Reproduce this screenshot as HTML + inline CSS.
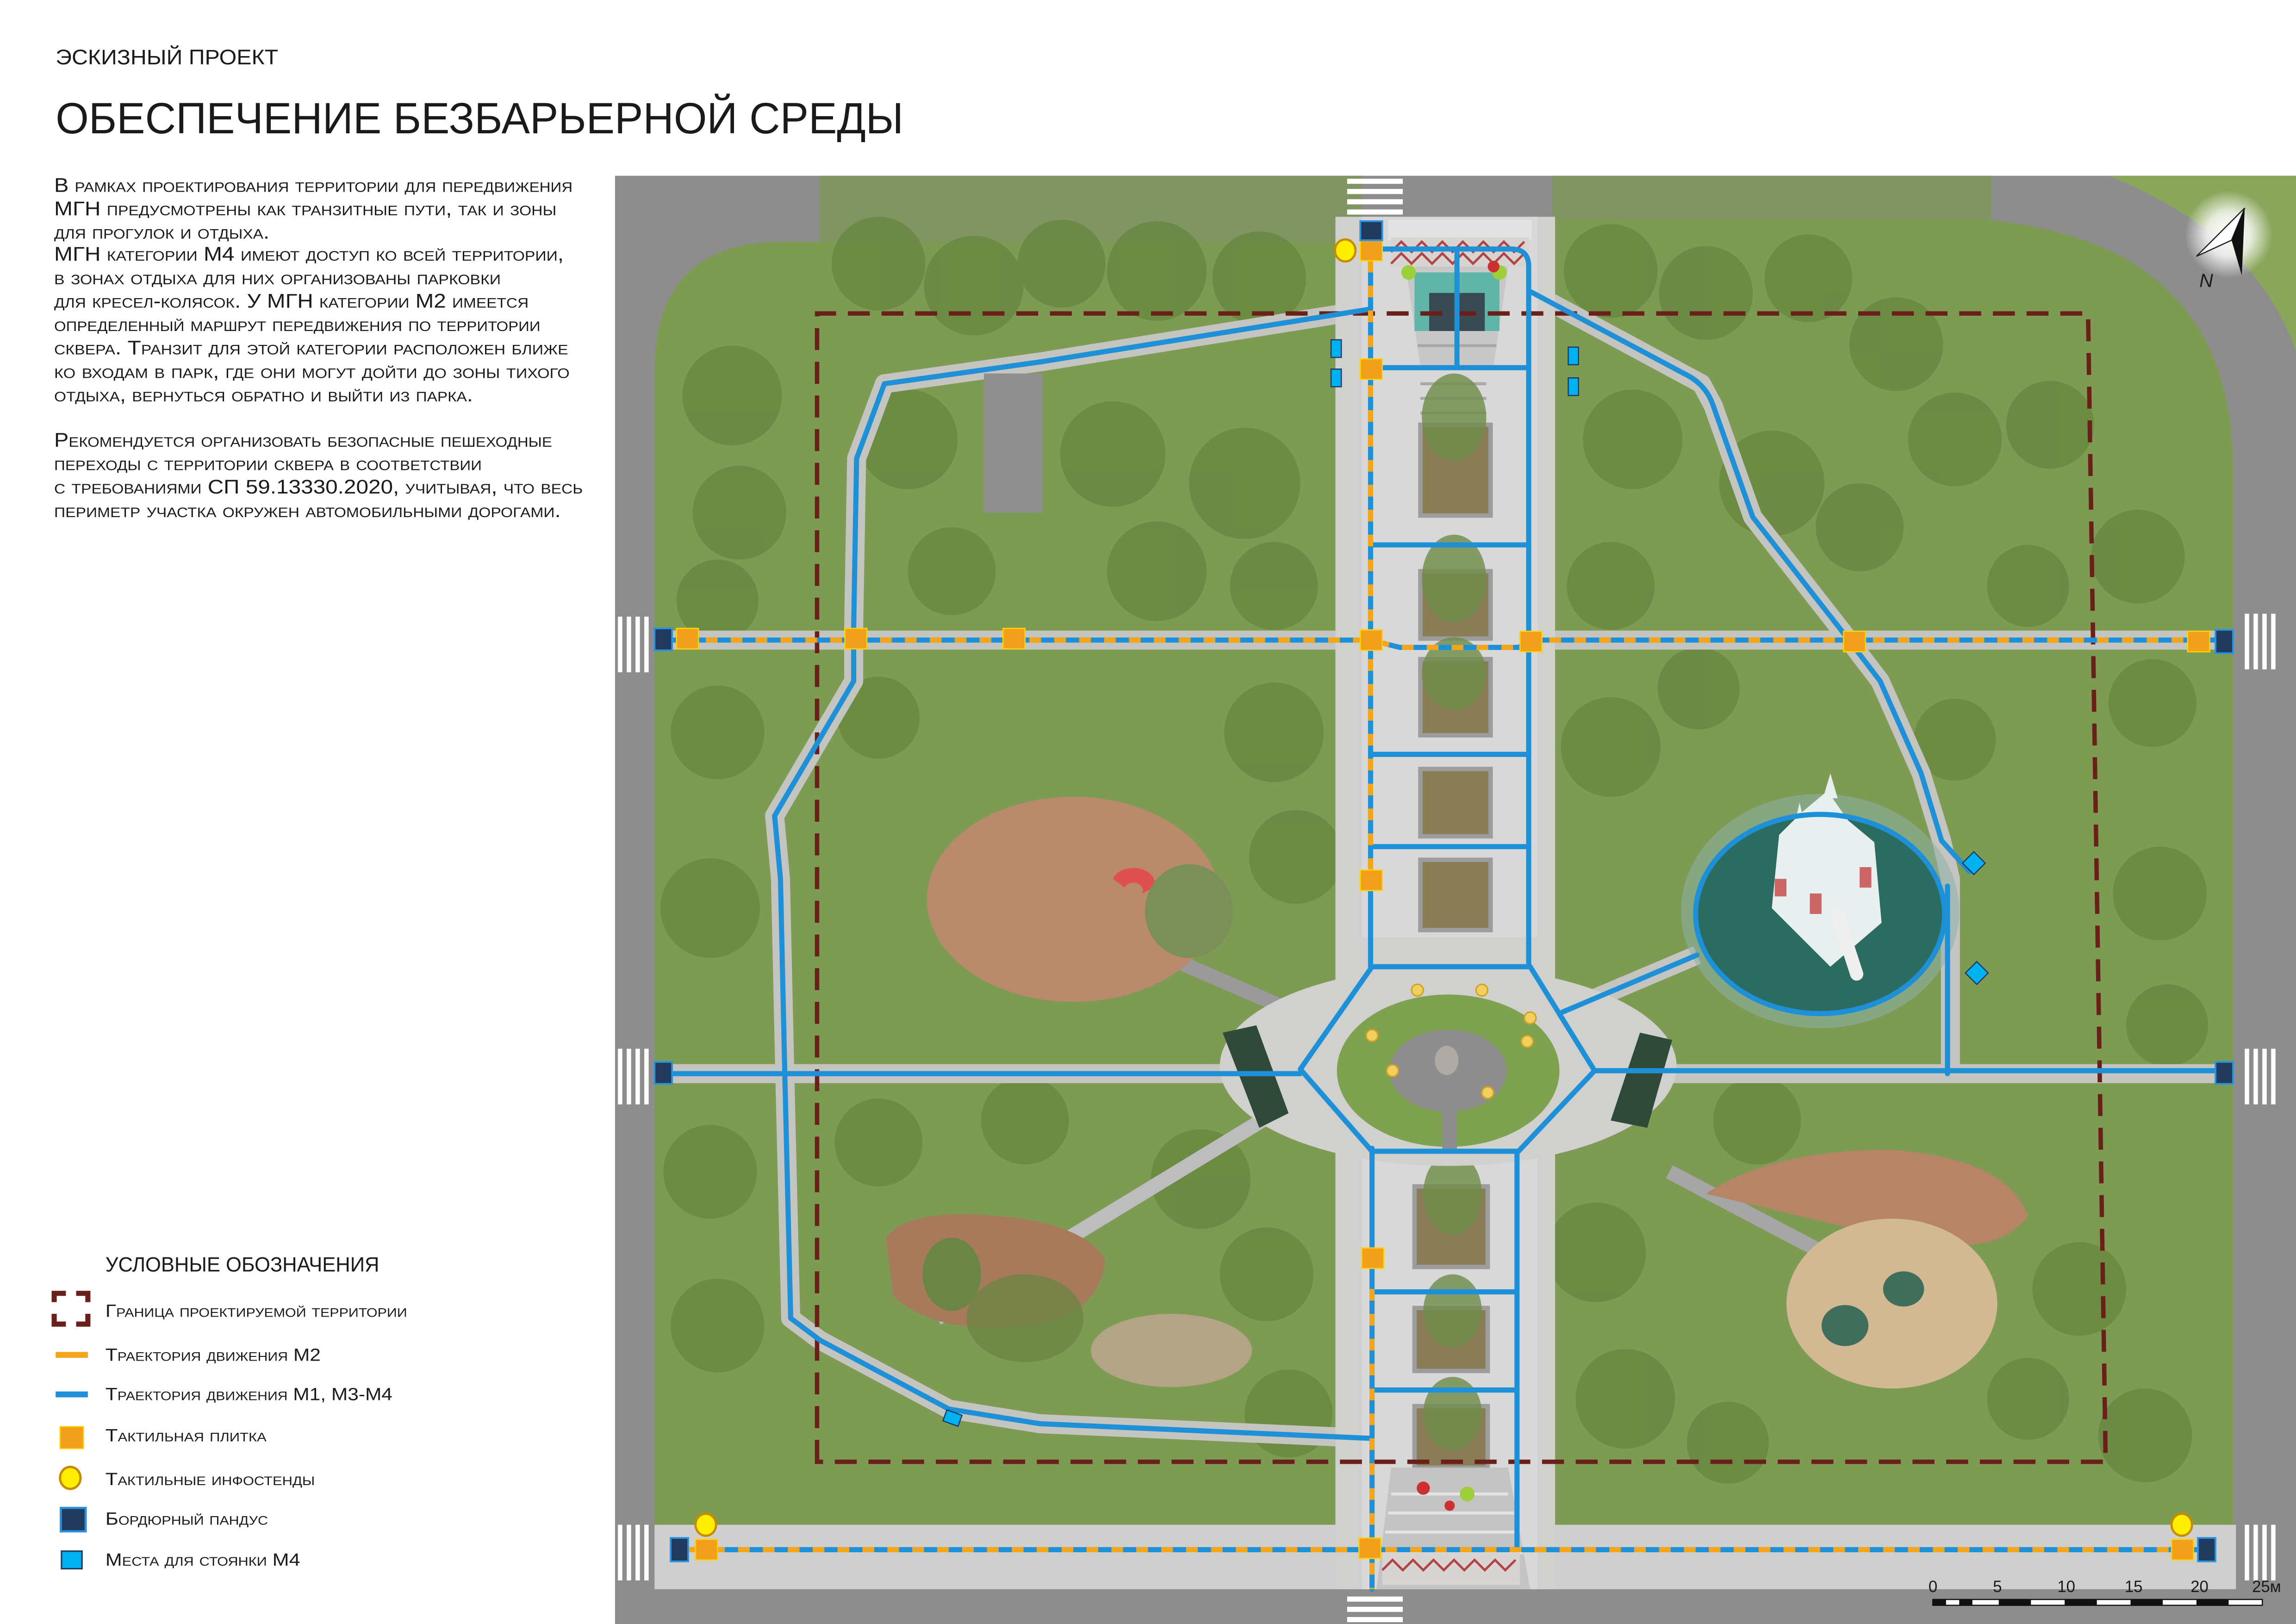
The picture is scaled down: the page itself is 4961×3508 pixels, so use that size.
<!DOCTYPE html>
<html><head><meta charset="utf-8"><style>
html,body{margin:0;padding:0;background:#fff;width:4961px;height:3508px;overflow:hidden;}
svg{display:block;}
text{font-family:"Liberation Sans",sans-serif;fill:#1a1a1a;}
.sc{font-variant:small-caps;}
</style></head><body>
<svg width="4961" height="3508" viewBox="0 0 1568 1108.75" xmlns="http://www.w3.org/2000/svg">
<defs>
<radialGradient id="glow"><stop offset="0" stop-color="#fff"/><stop offset="0.5" stop-color="#fff" stop-opacity="0.8"/><stop offset="1" stop-color="#fff" stop-opacity="0"/></radialGradient>
</defs>

<!-- MAP -->
<rect x="420" y="120" width="1148" height="989" fill="#8d8d8d"/>
<path d="M1440 120 H1568 V240 Q1540 160 1440 120 Z" fill="#8aa65a"/>
<path d="M447 1085 V253 Q447 165 535 165 H930 V150 H1355 Q1525 165 1525 320 V1085 Z" fill="#7d9b52"/>
<rect x="560" y="120" width="370" height="45" fill="#7a9850" opacity="0.7"/>
<rect x="1060" y="120" width="300" height="30" fill="#7a9850" opacity="0.7"/>
<g fill="#67853f" opacity="0.75">
<circle cx="600" cy="180" r="32"/><circle cx="665" cy="195" r="34"/><circle cx="725" cy="180" r="30"/><circle cx="790" cy="185" r="34"/><circle cx="860" cy="190" r="32"/>
<circle cx="620" cy="300" r="34"/><circle cx="760" cy="310" r="36"/><circle cx="850" cy="330" r="38"/><circle cx="790" cy="390" r="34"/><circle cx="870" cy="400" r="30"/><circle cx="650" cy="390" r="30"/>
<circle cx="500" cy="270" r="34"/><circle cx="505" cy="350" r="32"/><circle cx="490" cy="410" r="28"/>
<circle cx="1100" cy="185" r="32"/><circle cx="1165" cy="200" r="32"/><circle cx="1235" cy="190" r="30"/><circle cx="1295" cy="235" r="32"/><circle cx="1115" cy="300" r="34"/><circle cx="1210" cy="330" r="36"/><circle cx="1270" cy="360" r="30"/><circle cx="1335" cy="300" r="32"/><circle cx="1400" cy="290" r="30"/><circle cx="1460" cy="380" r="32"/><circle cx="1100" cy="400" r="30"/><circle cx="1385" cy="400" r="28"/>
<circle cx="490" cy="500" r="32"/><circle cx="485" cy="620" r="34"/><circle cx="600" cy="490" r="28"/><circle cx="870" cy="500" r="34"/><circle cx="885" cy="585" r="32"/>
<circle cx="1100" cy="510" r="34"/><circle cx="1160" cy="470" r="28"/><circle cx="1335" cy="505" r="28"/><circle cx="1470" cy="480" r="30"/><circle cx="1475" cy="610" r="32"/><circle cx="1480" cy="700" r="28"/>
<circle cx="485" cy="800" r="32"/><circle cx="490" cy="905" r="32"/><circle cx="600" cy="780" r="30"/><circle cx="700" cy="765" r="30"/><circle cx="820" cy="805" r="34"/><circle cx="865" cy="870" r="32"/><circle cx="880" cy="965" r="30"/>
<circle cx="1090" cy="855" r="34"/><circle cx="1110" cy="955" r="34"/><circle cx="1180" cy="985" r="28"/><circle cx="1420" cy="880" r="32"/><circle cx="1465" cy="980" r="32"/><circle cx="1385" cy="955" r="28"/><circle cx="1200" cy="765" r="30"/>
</g>
<rect x="447" y="1041" width="1080" height="44" fill="#cfcfcf"/>
<g fill="none" stroke="#c4c4c0" stroke-width="13" stroke-linejoin="round">
<path d="M453 437 H936"/>
<path d="M1045 437 H1519"/>
<path d="M453 733 H890"/>
<path d="M1088 733 H1519"/>
<path d="M936 211 L711 247 L604 262 L585 313 L583 428 L583 465 L529 557 L533 600 L536 735 L540 900 L560 915 L648 962 L710 972 L936 982"/>
<path d="M1045 199 L1162 262 L1170 277 L1197 353 L1258 431 L1284 465 L1312 528 L1326 574 L1332 600 L1332 733"/>
<path d="M1067 691 L1159 652"/>
<path d="M905 700 L720 620" stroke="#9a9a9a" stroke-width="10"/>
<path d="M1140 800 L1330 900" stroke="#a6a6a6" stroke-width="10"/>
<path d="M870 760 L640 900" stroke="#bdbdbd" stroke-width="10"/>
</g>
<rect x="672" y="255" width="40" height="95" fill="#8f8f8f"/>
<rect x="912" y="148" width="150" height="937" fill="#d0d0ce"/>
<rect x="930" y="148" width="120" height="937" fill="#d8d8d8"/>
<rect x="948" y="150" width="98" height="14" fill="#e2e2e2"/>
<rect x="950" y="162" width="94" height="20" fill="#d8d4d2"/>
<path d="M950 172 L957 165 L964 172 L971 165 L978 172 L985 165 L992 172 L999 165 L1006 172 L1013 165 L1020 172 L1027 165 L1034 172 L1041 165 M950 180 L957 173 L964 180 L971 173 L978 180 L985 173 L992 180 L999 173 L1006 180 L1013 173 L1020 180 L1027 173 L1034 180 L1041 173" stroke="#b14444" stroke-width="1.6" fill="none"/>
<path d="M960 182 H1030 L1020 250 H970 Z" fill="#c8c8c8"/>
<g stroke="#a8a8a8" stroke-width="2"><path d="M968 200 H1022 M968 212 H1022 M968 224 H1022 M968 236 H1022 M970 262 H1015 M970 272 H1015 M970 282 H1015"/></g>
<rect x="966" y="186" width="58" height="40" fill="#5fb5a8"/>
<rect x="976" y="200" width="38" height="26" fill="#3a4a55"/>
<circle cx="962" cy="186" r="5" fill="#9ccf3a"/><circle cx="1024" cy="186" r="5" fill="#9ccf3a"/><circle cx="1020" cy="182" r="4" fill="#cc3030"/>
<g fill="#8a7d56" stroke="#9d9d9d" stroke-width="3">
<rect x="970" y="290" width="48" height="62"/>
<rect x="970" y="390" width="48" height="46"/>
<rect x="970" y="450" width="48" height="52"/>
<rect x="970" y="525" width="48" height="46"/>
<rect x="970" y="587" width="48" height="48"/>
<rect x="966" y="810" width="50" height="55"/>
<rect x="966" y="893" width="50" height="43"/>
<rect x="966" y="960" width="50" height="42"/>
</g>
<g fill="#6f8c4a" opacity="0.8">
<ellipse cx="993" cy="285" rx="22" ry="30"/><ellipse cx="993" cy="395" rx="22" ry="30"/><ellipse cx="993" cy="460" rx="22" ry="25"/>
<ellipse cx="992" cy="815" rx="20" ry="28"/><ellipse cx="992" cy="895" rx="20" ry="25"/><ellipse cx="992" cy="965" rx="20" ry="25"/>
</g>
<path d="M950 1002 H1030 L1045 1085 H940 Z" fill="#c4c4c4"/>
<g stroke="#e4e4e4" stroke-width="2"><path d="M950 1020 H1030 M948 1033 H1034 M946 1046 H1036 M944 1060 H1040"/></g>
<rect x="944" y="1060" width="94" height="22" fill="#d8d4d2"/>
<path d="M944 1072 L951 1065 L958 1072 L965 1065 L972 1072 L979 1065 L986 1072 L993 1065 L1000 1072 L1007 1065 L1014 1072 L1021 1065 L1028 1072 L1035 1065" stroke="#b14444" stroke-width="1.6" fill="none"/>
<circle cx="972" cy="1016" r="4.5" fill="#cc3030"/><circle cx="1002" cy="1020" r="5" fill="#9ccf3a"/><circle cx="990" cy="1028" r="3.5" fill="#cc3030"/>
<ellipse cx="989" cy="728" rx="156" ry="68" fill="#d0d0ce"/>
<rect x="930" y="640" width="120" height="100" fill="#d0d0ce"/>
<ellipse cx="989" cy="731" rx="76" ry="52" fill="#7fa250"/>
<ellipse cx="989" cy="731" rx="40" ry="28" fill="#8e8e8e"/>
<path d="M985 755 H995 V785 H985 Z" fill="#8e8e8e"/>
<ellipse cx="988" cy="724" rx="8" ry="10" fill="#b0aaa4"/>
<g fill="#f0d060" stroke="#d6a020" stroke-width="1"><circle cx="937" cy="707" r="4"/><circle cx="968" cy="676" r="4"/><circle cx="1012" cy="676" r="4"/><circle cx="1045" cy="695" r="4"/><circle cx="1043" cy="711" r="4"/><circle cx="951" cy="731" r="4"/><circle cx="1016" cy="746" r="4"/></g>
<path d="M835 705 L858 700 L880 760 L860 770 Z" fill="#2f4a38"/>
<path d="M1120 705 L1142 710 L1125 770 L1100 765 Z" fill="#2f4a38"/>
<ellipse cx="733" cy="614" rx="100" ry="70" fill="#b98a6c"/>
<path d="M760 600 a14 10 0 1 1 28 6 l-8 4 a6 5 0 1 0 -12 -4 Z" fill="#e05050"/>
<ellipse cx="812" cy="622" rx="30" ry="32" fill="#7b8f58"/>
<path d="M605 845 Q620 825 680 830 Q740 835 755 860 Q750 900 700 905 Q640 912 610 885 Z" fill="#a87a5c"/>
<ellipse cx="800" cy="922" rx="55" ry="25" fill="#b8a58a" opacity="0.9"/>
<ellipse cx="650" cy="870" rx="20" ry="25" fill="#6b8545"/>
<ellipse cx="700" cy="900" rx="40" ry="30" fill="#6b8545" opacity="0.8"/>
<path d="M1165 815 Q1210 785 1290 785 Q1370 790 1385 830 Q1370 850 1340 850 L1270 840 Z" fill="#b58565"/>
<ellipse cx="1292" cy="890" rx="72" ry="58" fill="#d2b993"/>
<ellipse cx="1260" cy="905" rx="16" ry="14" fill="#3f6f5c"/><ellipse cx="1300" cy="880" rx="14" ry="12" fill="#3f6f5c"/>
<ellipse cx="1243" cy="622" rx="95" ry="80" fill="#8eb0a8" opacity="0.55"/>
<ellipse cx="1243" cy="624" rx="85" ry="68" fill="#2b6b60"/>
<path d="M1210 620 L1215 570 L1230 555 L1248 540 L1262 560 L1280 575 L1285 630 L1250 660 Z" fill="#e8f0ef"/>
<path d="M1245 545 L1250 528 L1255 545 Z M1225 565 L1229 548 L1233 565 Z" fill="#e8f0ef"/>
<g fill="#c66"><rect x="1212" y="600" width="8" height="12"/><rect x="1270" y="592" width="8" height="14"/><rect x="1236" y="610" width="8" height="14"/></g>
<path d="M1255 625 L1268 665" stroke="#efefef" stroke-width="9" stroke-linecap="round"/>

<g fill="#fff">
<rect x="920" y="122" width="38" height="3.5"/><rect x="920" y="129" width="38" height="3.5"/><rect x="920" y="136" width="38" height="3.5"/><rect x="920" y="143" width="38" height="3.5"/>
<rect x="920" y="1090" width="38" height="3.5"/><rect x="920" y="1097" width="38" height="3.5"/><rect x="920" y="1104" width="38" height="3.5"/>
<rect x="422" y="421" width="3" height="38"/><rect x="428" y="421" width="3" height="38"/><rect x="434" y="421" width="3" height="38"/><rect x="440" y="421" width="3" height="38"/>
<rect x="422" y="716" width="3" height="38"/><rect x="428" y="716" width="3" height="38"/><rect x="434" y="716" width="3" height="38"/><rect x="440" y="716" width="3" height="38"/>
<rect x="422" y="1041" width="3" height="38"/><rect x="428" y="1041" width="3" height="38"/><rect x="434" y="1041" width="3" height="38"/><rect x="440" y="1041" width="3" height="38"/>
<rect x="1533" y="419" width="3" height="38"/><rect x="1539" y="419" width="3" height="38"/><rect x="1545" y="419" width="3" height="38"/><rect x="1551" y="419" width="3" height="38"/>
<rect x="1533" y="716" width="3" height="38"/><rect x="1539" y="716" width="3" height="38"/><rect x="1545" y="716" width="3" height="38"/><rect x="1551" y="716" width="3" height="38"/>
<rect x="1533" y="1041" width="3" height="38"/><rect x="1539" y="1041" width="3" height="38"/><rect x="1545" y="1041" width="3" height="38"/><rect x="1551" y="1041" width="3" height="38"/>
</g>

<path d="M558 998 V214 H1426 L1438 998 Z" fill="none" stroke="#6b1f1a" stroke-width="3" stroke-dasharray="15 8"/>

<g fill="none" stroke="#1e90d8" stroke-width="3.5" stroke-linejoin="round" stroke-linecap="round">
<path d="M453 437 H936 L956 442 H1037 L1046 437 H1519"/>
<path d="M453 733 H888"/>
<path d="M1089 731 H1519"/>
<path d="M936 170 H1032 Q1044 170 1044 182 V660"/>
<path d="M995 170 V250"/>
<path d="M936 157 V660 M937 660 H1045 L1089 731 L1037 786 H937 L888 730 L937 660"/>
<path d="M937 784 V1085 M1036 786 V1058"/>
<path d="M937 251 H1044 M937 372 H1044 M937 515 H1044 M937 578 H1044"/>
<path d="M937 882 H1036 M937 949 H1036"/>
<path d="M464 1058 H1507"/>
<path d="M936 211 L711 247 L604 262 L585 313 L583 428 L583 465 L529 557 L533 600 L536 735 L540 900 L560 915 L648 962 L710 972 L936 982"/>
<path d="M1045 199 L1150 255 Q1165 262 1170 277 L1197 353 L1258 431 L1284 465 L1312 528 L1326 574 L1345 595"/>
<path d="M1330 605 V733"/>
<path d="M1067 691 L1159 652"/>
<ellipse cx="1243" cy="624" rx="85" ry="68"/>
</g>
<g fill="none" stroke="#f5a51a" stroke-width="3.5" stroke-dasharray="8 9">
<path d="M465 437 H936 L956 442 H1037 L1046 437 H1505"/>
<path d="M936 178 V600"/>
<path d="M937 880 V1085"/>
<path d="M470 1058 H1500"/>
</g>

<g fill="#f2a01c" stroke="#ffd400" stroke-width="0.8">
<rect x="462" y="429" width="15" height="14"/>
<rect x="577" y="429" width="15" height="14"/>
<rect x="685" y="429" width="15" height="14"/>
<rect x="929" y="430" width="15" height="14"/>
<rect x="1038" y="431" width="15" height="14"/>
<rect x="1259" y="431" width="15" height="14"/>
<rect x="1494" y="431" width="15" height="14"/>
<rect x="929" y="164" width="15" height="14"/>
<rect x="929" y="245" width="15" height="14"/>
<rect x="929" y="594" width="15" height="14"/>
<rect x="930" y="852" width="15" height="14"/>
<rect x="928" y="1050" width="15" height="14"/>
<rect x="475" y="1051" width="15" height="14"/>
<rect x="1483" y="1051" width="15" height="14"/>
<rect x="41" y="974" width="16" height="15"/>
</g>
<g fill="#223a5e" stroke="#2a93df" stroke-width="1.2">
<rect x="929" y="151" width="15" height="13"/>
<rect x="447" y="429" width="12" height="15"/>
<rect x="1513" y="430" width="12" height="16"/>
<rect x="447" y="725" width="12" height="15"/>
<rect x="1513" y="725" width="12" height="15"/>
<rect x="458" y="1050" width="12" height="16"/>
<rect x="1501" y="1050" width="12" height="16"/>
</g>
<g fill="#ffef00" stroke="#c98a00" stroke-width="1.5">
<ellipse cx="918.7" cy="171" rx="7" ry="7.5"/>
<ellipse cx="482" cy="1041" rx="7" ry="7.5"/>
<ellipse cx="1490" cy="1041" rx="7" ry="7.5"/>
</g>
<g fill="#00b2f2" stroke="#1f3a60" stroke-width="0.8">
<rect x="909" y="232" width="7" height="12"/><rect x="909" y="252" width="7" height="12"/>
<rect x="1071" y="237" width="7" height="12"/><rect x="1071" y="258" width="7" height="12"/>
<rect x="645" y="964" width="11" height="8" transform="rotate(20 650 968)"/>
<rect x="1342" y="584" width="11" height="11" transform="rotate(45 1348 590)"/>
<rect x="1344" y="659" width="11" height="11" transform="rotate(45 1350 665)"/>
</g>

<circle cx="1522" cy="160" r="30" fill="url(#glow)"/>
<path d="M1500 175 L1533 142 L1524 164 Z" fill="#fff" stroke="#222" stroke-width="0.8"/>
<path d="M1533 142 L1524 164 L1531 188 Z" fill="#111"/>
<text x="1502" y="196" font-size="13" font-style="italic" fill="#111">N</text>

<g font-size="11" fill="#111">
<text x="1317" y="1087">0</text><text x="1361" y="1087">5</text><text x="1405" y="1087">10</text><text x="1451" y="1087">15</text><text x="1496" y="1087">20</text><text x="1538" y="1087">25м</text>
</g>
<rect x="1320" y="1092" width="225" height="4" fill="#fff" stroke="#111" stroke-width="0.8"/>
<g fill="#111"><rect x="1320" y="1092" width="9" height="4"/><rect x="1338" y="1092" width="9" height="4"/><rect x="1365" y="1092" width="22" height="4"/><rect x="1410" y="1092" width="22" height="4"/><rect x="1455" y="1092" width="22" height="4"/><rect x="1500" y="1092" width="22" height="4"/></g>

<!-- TEXT -->
<text x="38" y="44" font-size="14.5" textLength="152" lengthAdjust="spacingAndGlyphs">ЭСКИЗНЫЙ ПРОЕКТ</text>
<text x="38" y="91" font-size="30" textLength="579" lengthAdjust="spacingAndGlyphs">ОБЕСПЕЧЕНИЕ БЕЗБАРЬЕРНОЙ СРЕДЫ</text>
<g font-size="13.5">
<text class="sc" x="37" y="131" textLength="354" lengthAdjust="spacingAndGlyphs">В рамках проектирования территории для передвижения</text>
<text class="sc" x="37" y="147" textLength="343" lengthAdjust="spacingAndGlyphs">МГН предусмотрены как транзитные пути, так и зоны</text>
<text class="sc" x="37" y="163" textLength="147" lengthAdjust="spacingAndGlyphs">для прогулок и отдыха.</text>
<text class="sc" x="37" y="178" textLength="348" lengthAdjust="spacingAndGlyphs">МГН категории М4 имеют доступ ко всей территории,</text>
<text class="sc" x="37" y="194" textLength="305" lengthAdjust="spacingAndGlyphs">в зонах отдыха для них организованы парковки</text>
<text class="sc" x="37" y="210" textLength="324" lengthAdjust="spacingAndGlyphs">для кресел-колясок. У МГН категории М2 имеется</text>
<text class="sc" x="37" y="226" textLength="332" lengthAdjust="spacingAndGlyphs">определенный маршрут передвижения по территории</text>
<text class="sc" x="37" y="242" textLength="351" lengthAdjust="spacingAndGlyphs">сквера. Транзит для этой категории расположен ближе</text>
<text class="sc" x="37" y="258" textLength="352" lengthAdjust="spacingAndGlyphs">ко входам в парк, где они могут дойти до зоны тихого</text>
<text class="sc" x="37" y="274" textLength="286" lengthAdjust="spacingAndGlyphs">отдыха, вернуться обратно и выйти из парка.</text>
<text class="sc" x="37" y="305" textLength="340" lengthAdjust="spacingAndGlyphs">Рекомендуется организовать безопасные пешеходные</text>
<text class="sc" x="37" y="321" textLength="292" lengthAdjust="spacingAndGlyphs">переходы с территории сквера в соответствии</text>
<text class="sc" x="37" y="337" textLength="361" lengthAdjust="spacingAndGlyphs">с требованиями СП 59.13330.2020, учитывая, что весь</text>
<text class="sc" x="37" y="353" textLength="346" lengthAdjust="spacingAndGlyphs">периметр участка окружен автомобильными дорогами.</text>
</g>

<text x="72" y="868" font-size="14" textLength="187" lengthAdjust="spacingAndGlyphs">УСЛОВНЫЕ ОБОЗНАЧЕНИЯ</text>
<g font-size="12">
<text class="sc" x="72" y="899" textLength="206" lengthAdjust="spacingAndGlyphs">Граница проектируемой территории</text>
<text class="sc" x="72" y="929" textLength="147" lengthAdjust="spacingAndGlyphs">Траектория движения М2</text>
<text class="sc" x="72" y="956" textLength="196" lengthAdjust="spacingAndGlyphs">Траектория движения М1, М3-М4</text>
<text class="sc" x="72" y="984" textLength="110" lengthAdjust="spacingAndGlyphs">Тактильная плитка</text>
<text class="sc" x="72" y="1014" textLength="143" lengthAdjust="spacingAndGlyphs">Тактильные инфостенды</text>
<text class="sc" x="72" y="1041" textLength="111" lengthAdjust="spacingAndGlyphs">Бордюрный пандус</text>
<text class="sc" x="72" y="1069" textLength="133" lengthAdjust="spacingAndGlyphs">Места для стоянки М4</text>
</g>
<path d="M37 889 V883 H45 M52 883 H60 V889 M37 897 V904 H45 M52 904 H60 V897" fill="none" stroke="#6b1f1a" stroke-width="3.5"/>
<rect x="38" y="923" width="22" height="4" fill="#f5a51a"/>
<rect x="38" y="950" width="22" height="4" fill="#1e8fd8"/>
<ellipse cx="48" cy="1009" rx="7" ry="7.5" fill="#ffef00" stroke="#c98a00" stroke-width="1.6"/>
<rect x="41.5" y="1029.5" width="17" height="16" fill="#223a5e" stroke="#2a93df" stroke-width="1.5"/>
<rect x="42" y="1059" width="14" height="12" fill="#00b2f2" stroke="#1f3a60" stroke-width="1"/>
</svg>
</body></html>
